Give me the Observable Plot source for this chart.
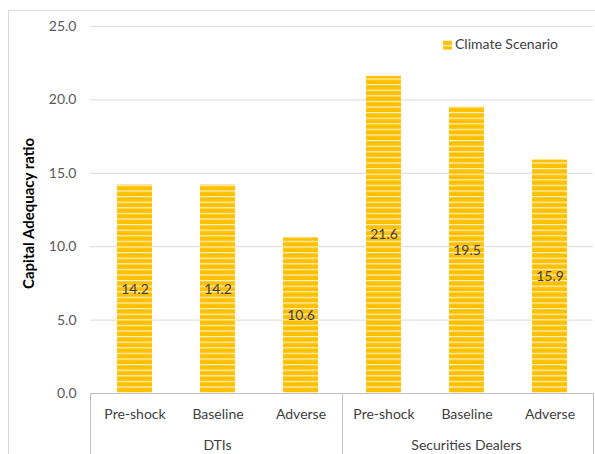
<!DOCTYPE html>
<html>
<head>
<meta charset="utf-8">
<script src="https://cdn.jsdelivr.net/npm/d3@7"></script>
<script src="https://cdn.jsdelivr.net/npm/@observablehq/plot@0.6"></script>
<style>
  html, body { margin: 0; padding: 0; background: #fff; }
  #chart { width: 595px; height: 454px; overflow: hidden; }
</style>
</head>
<body>
<div id="chart"></div>
<script>
// Capital adequacy ratios by sector under the climate scenario
const groups = ["DTIs", "DTIs", "DTIs", "Securities Dealers", "Securities Dealers", "Securities Dealers"];
const scenarios = ["Pre-shock", "Baseline", "Adverse", "Pre-shock", "Baseline", "Adverse"];
const values = [14.2, 14.2, 10.6, 21.6, 19.5, 15.9];
const yTicks = [0, 5, 10, 15, 20, 25];
const seriesName = "Climate Scenario";
const yTitle = "Capital Adequacy ratio";

const rows = values.map((v, i) => ({key: `${groups[i]}|${scenarios[i]}`, group: groups[i], scenario: scenarios[i], value: v}));
const keys = rows.map(d => d.key);

const font = "Lato, 'Open Sans', sans-serif";
const textColor = "#595959";

const plot = Plot.plot({
  width: 595,
  height: 454,
  marginTop: 26,
  marginBottom: 61,
  marginLeft: 90,
  marginRight: 2,
  style: {fontFamily: font, fontSize: "14px", color: textColor, background: "white"},
  x: {domain: keys, paddingInner: 0.58, paddingOuter: 0.29},
  y: {domain: [0, 25]},
  marks: [
    Plot.gridY(yTicks, {stroke: "#d9d9d9", strokeOpacity: 1}),
    Plot.axisY(yTicks, {tickFormat: d3.format(".1f"), tickSize: 0, tickPadding: 14, label: null, fill: textColor}),
    Plot.barY(rows, {x: "key", y: "value", fill: "url(#stripes)"}),
    Plot.text(rows, {x: "key", y: d => d.value / 2, text: d => d.value.toFixed(1), fill: "#404040", fontSize: 14}),
    Plot.ruleY([0], {stroke: "#bfbfbf"}),
    Plot.axisX({tickSize: 0, tickPadding: 16, tickFormat: k => k.split("|")[1], label: null, fill: "#404040"})
  ]
});

document.getElementById("chart").appendChild(plot);

const svg = d3.select(plot);
const xs = plot.scale("x");
const ys = plot.scale("y");
const y0 = ys.apply(0);
const bw = xs.bandwidth;

// striped fill for the bars
const defs = svg.insert("defs", ":first-child");
const pat = defs.append("pattern")
  .attr("id", "stripes")
  .attr("patternUnits", "userSpaceOnUse")
  .attr("width", 10)
  .attr("height", 5.6);
pat.append("rect").attr("width", 10).attr("height", 5.6).attr("fill", "#FFC000");
pat.append("rect").attr("y", 0).attr("width", 10).attr("height", 1.3).attr("fill", "#FFE7A0");
pat.append("rect").attr("y", 0.35).attr("width", 10).attr("height", 0.6).attr("fill", "#FFF6DC");

// outer chart border
svg.insert("rect", "defs + *")
  .attr("x", 8.5).attr("y", 10.5)
  .attr("width", 620).attr("height", 500)
  .attr("fill", "none").attr("stroke", "#d9d9d9");

// grouped category axis: separators and group labels
const [xLeft, xRight] = xs.range;
const groupNames = Array.from(new Set(groups));
const boundaries = [xLeft];
groupNames.forEach((g, gi) => {
  const ks = rows.filter(d => d.group === g).map(d => d.key);
  const first = xs.apply(ks[0]);
  const last = xs.apply(ks[ks.length - 1]);
  if (gi < groupNames.length - 1) {
    const nextFirst = xs.apply(rows.find(d => d.group === groupNames[gi + 1]).key);
    boundaries.push((last + bw + nextFirst) / 2);
  }
  svg.append("text")
    .attr("x", (first + last + bw) / 2)
    .attr("y", y0 + 53)
    .attr("text-anchor", "middle")
    .attr("dominant-baseline", "middle")
    .attr("fill", "#404040")
    .attr("font-family", font)
    .attr("font-size", 14)
    .text(g);
});
boundaries.push(xRight);
boundaries.forEach(bx => {
  svg.append("line")
    .attr("x1", Math.round(bx) + 0.5).attr("x2", Math.round(bx) + 0.5)
    .attr("y1", y0).attr("y2", 460)
    .attr("stroke", "#bfbfbf");
});

// y axis title
svg.append("text")
  .attr("transform", `translate(30,${(ys.apply(0) + ys.apply(25)) / 2 + 4}) rotate(-90)`)
  .attr("text-anchor", "middle")
  .attr("dominant-baseline", "middle")
  .attr("font-family", font)
  .attr("font-size", 15)
  .attr("font-weight", "bold")
  .attr("fill", "#000")
  .text(yTitle);

// legend
const lg = svg.append("g").attr("transform", "translate(443,45)");
lg.append("rect").attr("x", 0).attr("y", -4.5).attr("width", 9).attr("height", 9).attr("fill", "url(#stripes)");
lg.append("text")
  .attr("x", 12).attr("y", 0)
  .attr("text-anchor", "start")
  .attr("dominant-baseline", "middle")
  .attr("font-family", font)
  .attr("font-size", 14)
  .attr("fill", "#404040")
  .text(seriesName);
</script>
</body>
</html>
